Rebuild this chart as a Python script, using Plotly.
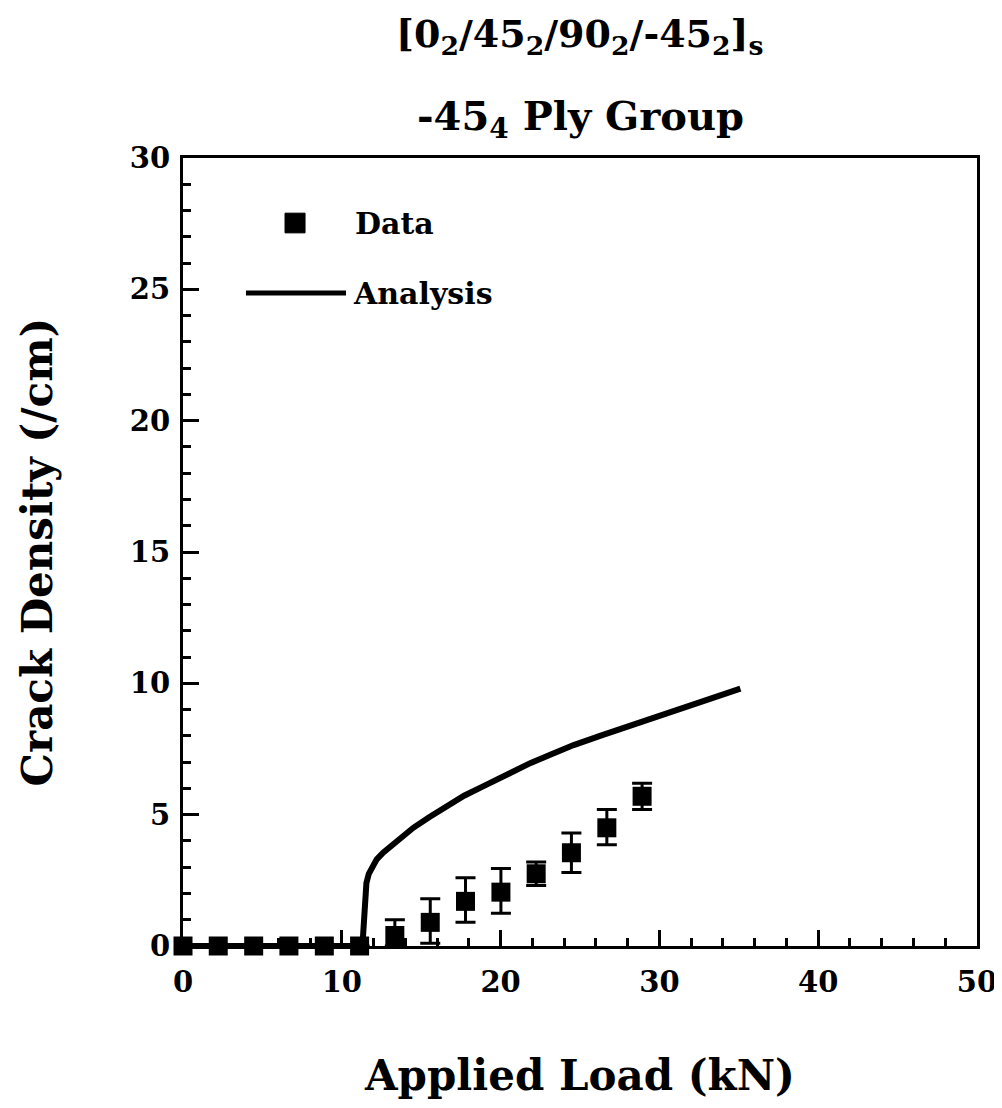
import plotly.graph_objects as go

# Data (applied load in kN, crack density in /cm)
data_load = [0.0, 2.22, 4.45, 6.67, 8.90, 11.12, 13.34, 15.57, 17.79, 20.02, 22.24, 24.46, 26.69, 28.91]
data_density = [0.0, 0.0, 0.0, 0.0, 0.0, 0.0, 0.4, 0.9, 1.7, 2.05, 2.75, 3.55, 4.5, 5.7]
err_plus = [0, 0, 0, 0, 0, 0, 0.6, 0.9, 0.9, 0.9, 0.45, 0.75, 0.7, 0.5]
err_minus = [0, 0, 0, 0, 0, 0, 0.4, 0.8, 0.8, 0.8, 0.45, 0.75, 0.65, 0.5]

analysis_load = [0.0, 11.3, 11.35, 11.4, 11.45, 11.55, 11.7, 11.9, 12.2, 12.6, 13.1, 13.8, 14.5,
                 15.5, 16.7, 17.7, 18.8, 20.3, 21.9, 23.2, 24.6, 26.4, 28.2, 30.0, 31.8, 33.5, 35.1]
analysis_density = [0.0, 0.0, 0.5, 1.2, 1.9, 2.4, 2.75, 3.0, 3.3, 3.55, 3.8, 4.15, 4.5,
                    4.9, 5.37, 5.72, 6.05, 6.5, 6.97, 7.3, 7.65, 8.03, 8.4, 8.78, 9.17, 9.5, 9.8]

x_ticks = [0, 10, 20, 30, 40, 50]
y_ticks = [0, 5, 10, 15, 20, 25, 30]

FONT = "DejaVu Serif"

fig = go.Figure()
fig.add_trace(go.Scatter(
    x=analysis_load, y=analysis_density, mode="lines",
    line=dict(color="black", width=6),
    name="Analysis", showlegend=False, cliponaxis=False))
fig.add_trace(go.Scatter(
    x=data_load, y=data_density, mode="markers",
    marker=dict(symbol="square", size=19, color="black"),
    error_y=dict(type="data", array=err_plus, arrayminus=err_minus,
                 color="black", thickness=3, width=10),
    name="Data", showlegend=False, cliponaxis=False))

axis_common = dict(
    showline=True, linecolor="black", linewidth=3, mirror=True,
    ticks="inside", ticklen=16, tickwidth=3, tickcolor="black",
    showgrid=False, zeroline=False, automargin=False,
    tickfont=dict(family=FONT, size=29, color="black", weight="bold"),
    ticklabeloverflow="allow",
)

fig.update_xaxes(range=[0, 50], tickvals=x_ticks,
                 minor=dict(dtick=2, ticks="inside", ticklen=8, tickwidth=3, tickcolor="black"),
                 title=dict(text="<b>Applied Load (kN)</b>", font=dict(family=FONT, size=42, color="black"), standoff=68),
                 ticklabelstandoff=8,
                 **axis_common)
fig.update_yaxes(range=[0, 30], tickvals=y_ticks,
                 minor=dict(dtick=1, ticks="inside", ticklen=8, tickwidth=3, tickcolor="black"),
                 title=dict(text="<b>Crack Density (/cm)</b>", font=dict(family=FONT, size=42, color="black"), standoff=65),
                 ticklabelstandoff=4,
                 **axis_common)

# Legend (drawn manually to match original layout)
fig.add_shape(type="rect", xref="paper", yref="paper",
              x0=0.1285, x1=0.1537, y0=0.905, y1=0.930,
              fillcolor="black", line=dict(color="black", width=1))
fig.add_shape(type="line", xref="paper", yref="paper",
              x0=0.0793, x1=0.2053, y0=0.8287, y1=0.8287,
              line=dict(color="black", width=5))
fig.add_annotation(text="<b>Data</b>", xref="paper", yref="paper", x=0.214, y=0.917,
                   xanchor="left", yanchor="middle", showarrow=False,
                   font=dict(family=FONT, size=30, color="black"))
fig.add_annotation(text="<b>Analysis</b>", xref="paper", yref="paper", x=0.2116, y=0.828,
                   xanchor="left", yanchor="middle", showarrow=False,
                   font=dict(family=FONT, size=30, color="black"))

# Title (two lines with subscripts)
fig.add_annotation(text="<b>[0<sub>2</sub>/45<sub>2</sub>/90<sub>2</sub>/-45<sub>2</sub>]<sub>s</sub></b>",
                   xref="paper", yref="paper", x=0.5, y=1.155, xanchor="center", yanchor="middle",
                   showarrow=False, font=dict(family=FONT, size=38, color="black"))
fig.add_annotation(text="<b>-45<sub>4</sub> Ply Group</b>",
                   xref="paper", yref="paper", x=0.5, y=1.05, xanchor="center", yanchor="middle",
                   showarrow=False, font=dict(family=FONT, size=40, color="black"))

fig.update_layout(
    width=994, height=1092,
    margin=dict(l=175, r=25, t=150, b=154),
    paper_bgcolor="white", plot_bgcolor="white",
    showlegend=False,
)

fig.write_html("out.html")
